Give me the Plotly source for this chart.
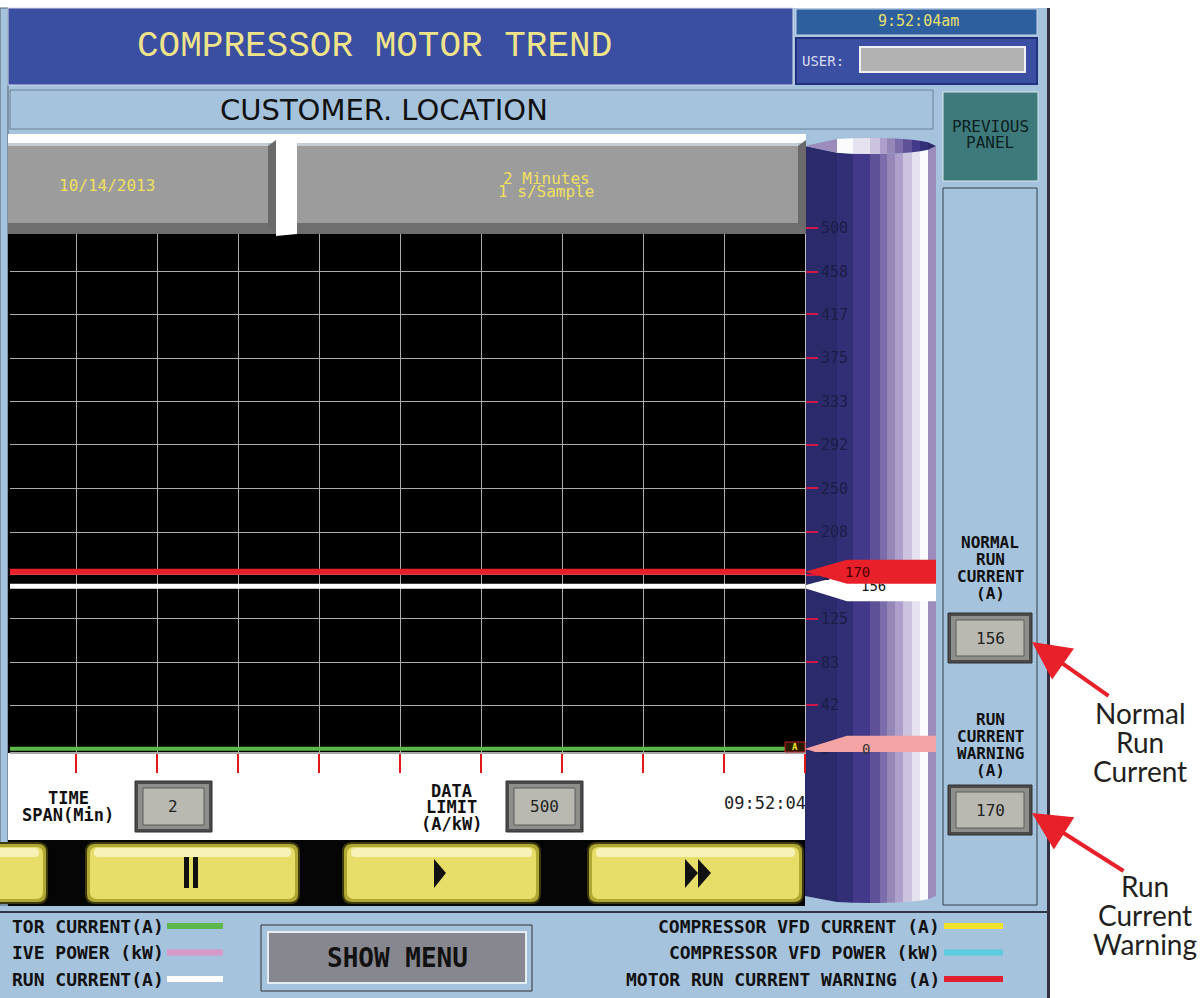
import math
import plotly.graph_objects as go

W, H = 1204, 998
MONO = "DejaVu Sans Mono"

# ---- values ----
time_s = [0, 120]                 # 2 minute window, 1 s/sample
motor_current = [0, 0]            # green trace (A)
normal_run_current = [156, 156]   # white trace (A)
run_current_warning = [170, 170]  # red trace (A)
y_ticks = [0, 42, 83, 125, 167, 208, 250, 292, 333, 375, 417, 458, 500]
y_tick_labels = [str(v) for v in y_ticks]
x_grid_step = 12
time_span_min = 2
data_limit = 500
trend_date = "10/14/2013"
clock = "9:52:04am"
clock_short = "09:52:04"
legend_left = ["TOR CURRENT(A)", "IVE POWER (kW)", "RUN CURRENT(A)"]
legend_left_colors = ["#5cb84a", "#d898c8", "#ffffff"]
legend_right = ["COMPRESSOR VFD CURRENT (A)", "COMPRESSOR VFD POWER (kW)",
                "MOTOR RUN CURRENT WARNING (A)"]
legend_right_colors = ["#f2e22c", "#5ccbe0", "#e02030"]

shapes = []
annotations = []


def px(x):
    return x / W


def py(y):
    return 1 - y / H


def rect(x0, y0, x1, y1, fill, line=None, lw=0, layer="below"):
    shapes.append(dict(type="rect", xref="paper", yref="paper",
                       x0=px(x0), x1=px(x1), y0=py(y1), y1=py(y0),
                       fillcolor=fill, line=dict(color=line or fill, width=lw),
                       layer=layer))


def poly(pts, fill, layer="below", line=None, lw=0):
    d = "M " + " L ".join(f"{px(x):.5f},{py(y):.5f}" for x, y in pts) + " Z"
    shapes.append(dict(type="path", xref="paper", yref="paper", path=d,
                       fillcolor=fill, line=dict(color=line or fill, width=lw),
                       layer=layer))


def rrect(x0, y0, x1, y1, r, fill, line=None, lw=0, layer="below"):
    def p(x, y):
        return f"{px(x):.5f},{py(y):.5f}"
    d = (f"M {p(x0 + r, y0)} L {p(x1 - r, y0)} Q {p(x1, y0)} {p(x1, y0 + r)} "
         f"L {p(x1, y1 - r)} Q {p(x1, y1)} {p(x1 - r, y1)} L {p(x0 + r, y1)} "
         f"Q {p(x0, y1)} {p(x0, y1 - r)} L {p(x0, y0 + r)} Q {p(x0, y0)} {p(x0 + r, y0)} Z")
    shapes.append(dict(type="path", xref="paper", yref="paper", path=d,
                       fillcolor=fill, line=dict(color=line or fill, width=lw),
                       layer=layer))


def label(x, y, lines, size, color, family=MONO, bold=False, gap=None, anchor="center"):
    if isinstance(lines, str):
        lines = [lines]
    gap = gap or size * 1.2
    y0 = y - gap * (len(lines) - 1) / 2
    for i, s in enumerate(lines):
        annotations.append(dict(xref="paper", yref="paper", x=px(x), y=py(y0 + i * gap),
                                text=f"<b>{s}</b>" if bold else s, showarrow=False,
                                xanchor=anchor, yanchor="middle", borderpad=0,
                                font=dict(family=family, size=size, color=color)))


def value_box(x0, y0, x1, y1, text):
    rect(x0, y0, x1, y1, "#4a4a4a", "#303030", 1)
    rect(x0 + 3, y0 + 3, x1 - 3, y1 - 3, "#8e8e8a")
    rect(x0 + 8, y0 + 7, x1 - 8, y1 - 7, "#b9b9b1", "#5a5a5a", 1)
    label((x0 + x1) / 2, (y0 + y1) / 2, text, 16, "#222222")


def button(x0, y0, x1, y1):
    rrect(x0, y0, x1, y1, 9, "#b0a834", "#3e3a0e", 2)
    rrect(x0 + 4, y0 + 4, x1 - 4, y1 - 4, 7, "#e6de68")
    rrect(x0 + 8, y0 + 5, x1 - 8, y0 + 14, 4, "#f6f2b8")


# ---- panel frame ----
rect(0, 8, 1048, 998, "#a5c3dd")
rect(1047, 8, 1050, 998, "#303040")
rect(0, 8, 8, 905, "#a5c3dd", "#506070", 1)
rect(8, 8, 793, 85, "#3a4ea2", "#d0d8e8", 1)
rect(796, 9, 1037, 35, "#2d5f9e", "#c8d4e8", 1)
rect(796, 38, 1037, 84, "#3a4ea2", "#223080", 2)
rect(860, 47, 1025, 72, "#b2b2b2", "#eef0f6", 2)
rect(10, 90, 933, 129, "#a5c3dd", "#6d8298", 1)
rect(943, 92, 1038, 181, "#3e7a7c", "#d8e8f0", 1)
rect(943, 188, 1037, 905, "#a5c3dd", "#34404c", 1)
rect(8, 134, 806, 143, "#ffffff")

# plot background, bottom strip, button strip
rect(8, 228, 805, 753, "#000000")
rect(8, 753, 805, 840, "#ffffff")
rect(8, 840, 805, 906, "#050505")
rect(0, 911, 1048, 913, "#303848")

# cylinder gauge: vertical stripes with elliptic top cap and rounded bottom
stripes = [(805, 837, "#2b2b6c"), (837, 853, "#332f76"), (853, 870, "#43398a"),
           (870, 880, "#5e5198"), (880, 887, "#7a6daa"), (887, 895, "#9587b8"),
           (895, 903, "#ae9fcc"), (903, 912, "#ccc3df"), (912, 920, "#e6e2ef"),
           (920, 928, "#fbfbfd"), (928, 936, "#9c8cbc")]
cx, rx = 870.5, 65.5


def ell(x, cy, ry, sign):
    t = max(0.0, 1 - ((x - cx) / rx) ** 2)
    return cy + sign * ry * math.sqrt(t)


for x0, x1, c in stripes:
    poly([(x0, ell(x0, 146, 8, 1)), (x1, ell(x1, 146, 8, 1)),
          (x1, ell(x1, 896, 7, 1)), (x0, ell(x0, 896, 7, 1))], c)
# cap: gradient runs the other way
for (x0, x1, _), (_, _, c) in zip(stripes, reversed(stripes)):
    poly([(x0, ell(x0, 146, 8, -1)), (x1, ell(x1, 146, 8, -1)),
          (x1, ell(x1, 146, 8, 1)), (x0, ell(x0, 146, 8, 1))], c)

# yellow transport buttons
button(-30, 843, 47, 903)
button(86, 843, 299, 903)
button(343, 843, 540, 903)
button(588, 843, 803, 903)
rect(184, 857, 189, 888, "#111111")
rect(193, 857, 198, 888, "#111111")
poly([(434, 859), (446, 873), (434, 888)], "#111111")
poly([(685, 859), (698, 873), (685, 888)], "#111111")
poly([(698, 859), (711, 873), (698, 888)], "#111111")

# value boxes
value_box(135, 781, 212, 832, str(time_span_min))
value_box(506, 781, 583, 832, str(data_limit))
value_box(948, 613, 1032, 663, str(normal_run_current[0]))
value_box(948, 785, 1032, 835, str(run_current_warning[0]))

# show menu
rect(261, 925, 532, 991, "rgba(0,0,0,0)", "#303030", 1)
rect(268, 932, 526, 983, "#87878f", "#e4ecf4", 2)

# legend swatches
for i, c in enumerate(legend_left_colors):
    rect(167, 923 + 26.5 * i, 223, 929 + 26.5 * i, c)
for i, c in enumerate(legend_right_colors):
    rect(944, 923 + 26.5 * i, 1003, 929 + 26.5 * i, c)

# white pointer sits under the axis layer so its label can be half hidden
shapes.append(dict(type="path", xref="paper", yref="y", ysizemode="pixel",
                   yanchor=normal_run_current[0],
                   path="M 0.6686,1 L 0.7035,12 L 0.7774,12 L 0.7774,-15 L 0.7035,-15 L 0.6686,-2 Z",
                   fillcolor="#ffffff", line=dict(color="#ffffff", width=0), layer="below"))

# ---- header boxes over the plot top (above layer) ----
for bx0, bx1 in [(8, 276), (297, 806)]:
    rect(bx0, 143, bx1 - 8, 223, "#9c9c9c", layer="above")
    rect(bx0, 143, bx1 - 8, 146, "#c4ccd4", layer="above")
    rect(bx0, 223, bx1, 234, "#6e6e6e", layer="above")
    poly([(bx1 - 8, 146), (bx1, 140), (bx1, 234), (bx1 - 8, 223)], "#6a6a6a", layer="above")
poly([(276, 140), (297, 134), (297, 234), (276, 236)], "#ffffff", layer="above")

# red and pink pointers on the gauge
for val, fill, h in [(run_current_warning[0], "#e8202a", 12), (motor_current[0], "#f4a4a4", 13)]:
    d = f"M 0.6686,0 L 0.7035,{h} L 0.7774,{h} L 0.7774,{-h} L 0.7035,{-h} Z"
    shapes.append(dict(type="path", xref="paper", yref="y", ysizemode="pixel", yanchor=val,
                       path=d, fillcolor=fill, line=dict(color=fill, width=0), layer="above"))
for val, c in [(run_current_warning[0], "#4a0000"), (motor_current[0], "#333333")]:
    annotations.append(dict(xref="paper", yref="y", x=px(872), y=val, text=str(val),
                            showarrow=False, font=dict(family=MONO, size=14, color=c)))
rect(785, 742, 805, 752, "#2a1a00", "#c02020", 1, layer="above")
label(795, 747, "A", 9, "#f2e22c", bold=True)

# ---- texts ----
label(374, 47, "COMPRESSOR MOTOR TREND", 36, "#efe48a", family="Liberation Mono")
label(918, 21, clock, 15, "#e8e070")
label(823, 61, "USER:", 14, "#d8dcf0")
label(384, 110, "CUSTOMER. LOCATION", 29, "#111111", family="DejaVu Sans")
label(990, 135, ["PREVIOUS", "PANEL"], 16, "#0c2020", gap=16)
label(107, 186, trend_date, 16, "#f0e060")
label(546, 185, ["2 Minutes", "1 s/Sample"], 16, "#f0e060", gap=13)
label(68, 806, ["TIME", "SPAN(Min)"], 17, "#111111", bold=True, gap=17)
label(451, 807, ["DATA", "LIMIT", "(A/kW)"], 17, "#111111", bold=True, gap=16.5)
label(765, 803, clock_short, 17, "#222222")
label(990, 568, ["NORMAL", "RUN", "CURRENT", "(A)"], 16, "#111111", bold=True, gap=17)
label(990, 745, ["RUN", "CURRENT", "WARNING", "(A)"], 16, "#111111", bold=True, gap=17)
for i, s in enumerate(legend_left):
    label(165, 926 + 26.5 * i, s, 18, "#111111", bold=True, anchor="right")
for i, s in enumerate(legend_right):
    label(941, 926 + 26.5 * i, s, 18, "#111111", bold=True, anchor="right")
label(397, 958, "SHOW MENU", 26, "#111111", bold=True)

# callouts
label(1140, 742, ["Normal", "Run", "Current"], 28, "#231f20", family="Lato", gap=29)
label(1145, 915, ["Run", "Current", "Warning"], 28, "#231f20", family="Lato", gap=29)
for tx, ty, ax, ay in [(1032, 642, 78, 55), (1032, 813, 93, 59)]:
    annotations.append(dict(xref="paper", yref="paper", x=px(tx), y=py(ty), ax=ax, ay=ay,
                            text="", showarrow=True, arrowhead=2, arrowsize=1.9,
                            arrowwidth=4, arrowcolor="#e8202a"))

# ---- traces ----
fig = go.Figure()
fig.add_trace(go.Scatter(x=time_s, y=motor_current, mode="lines",
                         line=dict(color="#5cb84a", width=4)))
fig.add_trace(go.Scatter(x=time_s, y=normal_run_current, mode="lines",
                         line=dict(color="#ffffff", width=5)))
fig.add_trace(go.Scatter(x=time_s, y=run_current_warning, mode="lines",
                         line=dict(color="#e8202a", width=6)))
# invisible trace so the second y axis (pointer label) is drawn
fig.add_trace(go.Scatter(x=time_s[:1], y=normal_run_current[:1], yaxis="y2",
                         mode="markers", marker=dict(opacity=0), hoverinfo="skip"))

fig.update_layout(
    width=W, height=H, autosize=False, showlegend=False,
    margin=dict(l=0, r=0, t=0, b=0, pad=0, autoexpand=False),
    paper_bgcolor="#ffffff", plot_bgcolor="rgba(0,0,0,0)",
    xaxis=dict(domain=[px(10), px(805)], range=[2.2, 120], tick0=0, dtick=x_grid_step,
               showgrid=True, gridcolor="#ababab", gridwidth=1, zeroline=False,
               ticks="outside", ticklen=19, tickwidth=2, tickcolor="#e01818",
               showticklabels=False, showline=True, linecolor="#a8a8a8", linewidth=2),
    yaxis=dict(domain=[py(752), py(228)], range=[-3, data_limit], side="right",
               tickvals=y_ticks, ticktext=y_tick_labels,
               showgrid=True, gridcolor="#ababab", gridwidth=1, zeroline=False,
               ticks="outside", ticklen=12, tickwidth=2, tickcolor="#d01848",
               tickfont=dict(family=MONO, size=15, color="#1c1c48"),
               showline=True, linecolor="#c0c0c0", linewidth=1),
    yaxis2=dict(overlaying="y", side="right", range=[-3, data_limit],
                tickvals=[normal_run_current[0]], ticktext=[str(normal_run_current[0])],
                showgrid=False, zeroline=False, showline=False, ticks="",
                ticklabelstandoff=55,
                tickfont=dict(family=MONO, size=14, color="#111111")),
    shapes=shapes, annotations=annotations,
)

fig.write_html("out.html", config={"displayModeBar": False},
               post_script="document.body.style.margin='0';")
